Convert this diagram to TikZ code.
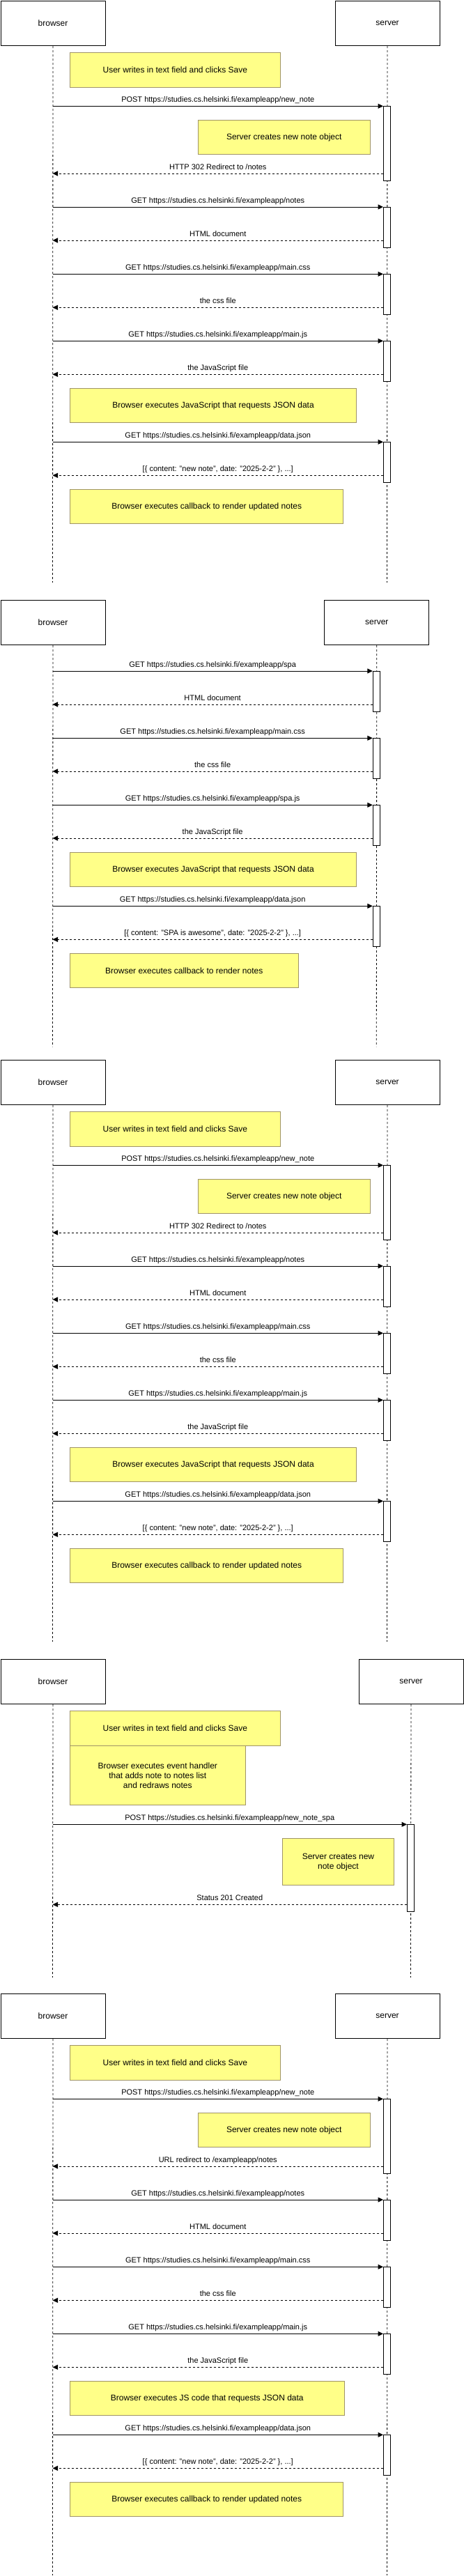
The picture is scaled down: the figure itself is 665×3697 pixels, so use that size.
\documentclass[tikz,border=0pt]{standalone}
\usepackage{fontspec}
\setmainfont{Liberation Sans}
\usetikzlibrary{arrows.meta}
\definecolor{noteyellow}{HTML}{FFFF88}
\definecolor{noteborder}{HTML}{A09468}
\tikzset{
  actorbox/.style={draw=black, line width=1pt, minimum width=150pt, minimum height=64.5pt, inner sep=0pt, anchor=north west, font=\fontsize{12}{14}\selectfont},
  lifeline/.style={draw=black, line width=0.8pt, dash pattern=on 3pt off 3pt},
  notebox/.style={draw=noteborder, fill=noteyellow, line width=1pt, inner sep=0pt, anchor=north west, font=\fontsize{12}{14}\selectfont, align=center},
  actbox/.style={draw=black, fill=white, line width=1pt, minimum width=10pt, inner sep=0pt, anchor=north},
  msg/.style={draw=black, line width=1pt, -{Triangle[length=7.5pt,width=7pt]}},
  retmsg/.style={msg, dash pattern=on 3pt off 3pt},
  msglabel/.style={font=\fontsize{11}{13}\selectfont, anchor=base, inner sep=0pt, yshift=5.5pt},
}
% classic notes flow: #1 offset, #2 prefix, #3 redirect label, #4 js box text, #5 js box width
\newcommand{\classicflow}[5]{%
\begin{scope}[shift={(0,#1)}, name prefix=#2-]
  \node[actorbox] (browser) at (0.5,0.5) {browser};
  \node[actorbox] (server) at (480.5,0.5) {server};
  \coordinate (bend) at (75.5,836);
  \coordinate (send) at (555.5,836);
  \draw[lifeline] (browser.south) -- (bend);
  \draw[lifeline] (server.south) -- (send);
  \node[notebox, minimum width=301.6pt, minimum height=49.4pt] (nuser) at (100,75.3) {User writes in text field and clicks Save};
  \node[actbox, minimum height=106.7pt] (a1) at (555.5,152.3) {};
  \node[actbox, minimum height=58pt] (a2) at (555.5,297) {};
  \node[actbox, minimum height=58pt] (a3) at (555.5,393.3) {};
  \node[actbox, minimum height=58pt] (a4) at (555.5,489.3) {};
  \node[actbox, minimum height=57.7pt] (a5) at (555.5,634.3) {};
  \node[notebox, minimum width=246.5pt, minimum height=49pt] (nserver) at (284,172) {Server creates new note object};
  \node[notebox, minimum width=#5pt, minimum height=49pt] (njs) at (100,557.3) {#4};
  \node[notebox, minimum width=392.4pt, minimum height=48.7pt] (ncb) at (100,702.3) {Browser executes callback to render updated notes};
  \coordinate (b1) at (75.5,152.3);
  \coordinate (b2) at (75.5,249);
  \coordinate (b3) at (75.5,297);
  \coordinate (b4) at (75.5,345);
  \coordinate (b5) at (75.5,393.3);
  \coordinate (b6) at (75.5,441.3);
  \coordinate (b7) at (75.5,489.3);
  \coordinate (b8) at (75.5,537.3);
  \coordinate (b9) at (75.5,634.3);
  \coordinate (b10) at (75.5,682.3);
  \draw[msg] (b1) -- node[msglabel]{POST https://studies.cs.helsinki.fi/exampleapp/new\_note} (b1 -| a1.west);
  \draw[retmsg] (a1.west |- b2) -- node[msglabel]{#3} (b2);
  \draw[msg] (b3) -- node[msglabel]{GET https://studies.cs.helsinki.fi/exampleapp/notes} (b3 -| a2.west);
  \draw[retmsg] (a2.west |- b4) -- node[msglabel]{HTML document} (b4);
  \draw[msg] (b5) -- node[msglabel]{GET https://studies.cs.helsinki.fi/exampleapp/main.css} (b5 -| a3.west);
  \draw[retmsg] (a3.west |- b6) -- node[msglabel]{the css file} (b6);
  \draw[msg] (b7) -- node[msglabel]{GET https://studies.cs.helsinki.fi/exampleapp/main.js} (b7 -| a4.west);
  \draw[retmsg] (a4.west |- b8) -- node[msglabel]{the JavaScript file} (b8);
  \draw[msg] (b9) -- node[msglabel]{GET https://studies.cs.helsinki.fi/exampleapp/data.json} (b9 -| a5.west);
  \draw[retmsg] (a5.west |- b10) -- node[msglabel]{[\{ content: "new note", date: "2025-2-2" \}, ...]} (b10);
\end{scope}}
\begin{document}
\begin{tikzpicture}[x=1pt, y=-1pt]
\useasboundingbox (0,0) rectangle (665,3697);
\fill[white] (0,0) rectangle (665,3697);

% Diagram 1
\classicflow{0}{d1}{HTTP 302 Redirect to /notes}{Browser executes JavaScript that requests JSON data}{411}

% Diagram 2 (SPA)
\begin{scope}[shift={(0,860)}, name prefix=d2-]
  \node[actorbox] (browser) at (0.5,0.5) {browser};
  \node[actorbox] (server) at (465.3,0.5) {server};
  \coordinate (bend) at (75.5,642.3);
  \coordinate (send) at (540.3,642.3);
  \draw[lifeline] (browser.south) -- (bend);
  \draw[lifeline] (server.south) -- (send);
  \node[actbox, minimum height=58pt] (a1) at (540.3,103) {};
  \node[actbox, minimum height=57.7pt] (a2) at (540.3,199.3) {};
  \node[actbox, minimum height=57.7pt] (a3) at (540.3,295.3) {};
  \node[actbox, minimum height=57.7pt] (a4) at (540.3,440.3) {};
  \node[notebox, minimum width=411pt, minimum height=49pt] (njs) at (100,363.3) {Browser executes JavaScript that requests JSON data};
  \node[notebox, minimum width=327.5pt, minimum height=49pt] (ncb) at (100,508.3) {Browser executes callback to render notes};
  \coordinate (b1) at (75.5,103);
  \coordinate (b2) at (75.5,151);
  \coordinate (b3) at (75.5,199.3);
  \coordinate (b4) at (75.5,247);
  \coordinate (b5) at (75.5,295.3);
  \coordinate (b6) at (75.5,343);
  \coordinate (b7) at (75.5,440.3);
  \coordinate (b8) at (75.5,488.3);
  \draw[msg] (b1) -- node[msglabel]{GET https://studies.cs.helsinki.fi/exampleapp/spa} (b1 -| a1.west);
  \draw[retmsg] (a1.west |- b2) -- node[msglabel]{HTML document} (b2);
  \draw[msg] (b3) -- node[msglabel]{GET https://studies.cs.helsinki.fi/exampleapp/main.css} (b3 -| a2.west);
  \draw[retmsg] (a2.west |- b4) -- node[msglabel]{the css file} (b4);
  \draw[msg] (b5) -- node[msglabel]{GET https://studies.cs.helsinki.fi/exampleapp/spa.js} (b5 -| a3.west);
  \draw[retmsg] (a3.west |- b6) -- node[msglabel]{the JavaScript file} (b6);
  \draw[msg] (b7) -- node[msglabel]{GET https://studies.cs.helsinki.fi/exampleapp/data.json} (b7 -| a4.west);
  \draw[retmsg] (a4.west |- b8) -- node[msglabel]{[\{ content: "SPA is awesome", date: "2025-2-2" \}, ...]} (b8);
\end{scope}

% Diagram 3
\classicflow{1520}{d3}{HTTP 302 Redirect to /notes}{Browser executes JavaScript that requests JSON data}{411}

% Diagram 4 (SPA new note)
\begin{scope}[shift={(0,2380)}, name prefix=d4-]
  \node[actorbox] (browser) at (0.5,0.5) {browser};
  \node[actorbox] (server) at (514.5,0.5) {server};
  \coordinate (bend) at (75.5,458);
  \coordinate (send) at (589.5,458);
  \draw[lifeline] (browser.south) -- (bend);
  \draw[lifeline] (server.south) -- (send);
  \node[notebox, minimum width=301.6pt, minimum height=49.4pt] (nuser) at (100,75.3) {User writes in text field and clicks Save};
  \node[notebox, minimum width=251.6pt, minimum height=85.6pt] (nhandler) at (100,124.7) {Browser executes event handler\\that adds note to notes list\\and redraws notes};
  \node[actbox, minimum height=124.7pt] (a1) at (589.5,238.3) {};
  \node[notebox, minimum width=159.1pt, minimum height=67pt] (nserver) at (405.4,258.3) {Server creates new\\note object};
  \coordinate (b1) at (75.5,238.3);
  \coordinate (b2) at (75.5,353.3);
  \draw[msg] (b1) -- node[msglabel]{POST https://studies.cs.helsinki.fi/exampleapp/new\_note\_spa} (b1 -| a1.west);
  \draw[retmsg] (a1.west |- b2) -- node[msglabel]{Status 201 Created} (b2);
\end{scope}

% Diagram 5
\classicflow{2860}{d5}{URL redirect to /exampleapp/notes}{Browser executes JS code that requests JSON data}{393.6}
\end{tikzpicture}
\end{document}
